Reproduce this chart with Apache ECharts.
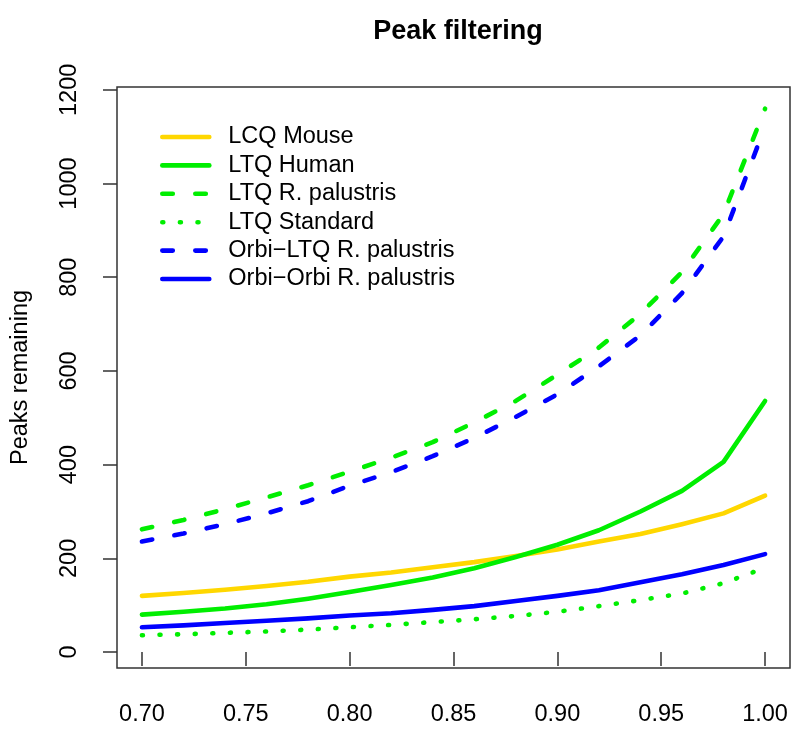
<!DOCTYPE html>
<html>
<head>
<meta charset="utf-8">
<script src="https://cdn.jsdelivr.net/npm/echarts@6/dist/echarts.min.js"></script>
<style>html,body{margin:0;padding:0;background:#fff;}#c{width:800px;height:739px;}</style>
</head>
<body>
<div id="c"></div>
<script>
// Data
const thresholds = [0.70,0.72,0.74,0.76,0.78,0.80,0.82,0.84,0.86,0.88,0.90,0.92,0.94,0.96,0.98,1.00];
const lcqMouse   = [120,126,133,141,150,161,170,181,192,205,219,236,252,273,296,334];
const ltqHuman   = [80,86,93,102,114,128,143,159,179,203,229,260,300,344,406,536];
const ltqRpal    = [262,282,305,330,356,385,415,448,490,536,592,650,722,811,935,1160];
const ltqStd     = [36,38,41,44,48,53,58,64,70,77,86,98,111,125,147,180];
const orbiLtqRpal  = [236,253,273,296,322,355,384,418,457,502,550,610,676,766,887,1122];
const orbiOrbiRpal = [53,57,62,67,72,78,83,90,98,109,120,132,149,166,186,209];
const xTicks = [0.70,0.75,0.80,0.85,0.90,0.95,1.00];
const yTicks = [0,200,400,600,800,1000,1200];
const seriesNames = ['LCQ Mouse','LTQ Human','LTQ R. palustris','LTQ Standard','Orbi\u2212LTQ R. palustris','Orbi\u2212Orbi R. palustris'];

const GOLD = '#FFD700', GREEN = '#00EE00', BLUE = '#0000FF';
const FONT = '"Liberation Sans", Arial, Helvetica, sans-serif';
const LW = 4.6;
const DASH = [10.5, 22.5], DOT = [1, 16.6];
const styles = [
  {color: GOLD, type: 'solid'},
  {color: GREEN, type: 'solid'},
  {color: GREEN, type: DASH},
  {color: GREEN, type: DOT},
  {color: BLUE, type: DASH},
  {color: BLUE, type: 'solid'}
];
const values = [lcqMouse, ltqHuman, ltqRpal, ltqStd, orbiLtqRpal, orbiOrbiRpal];

const series = values.map((vals, i) => ({
  name: seriesNames[i],
  type: 'line',
  symbol: 'none',
  smooth: false,
  silent: true,
  color: styles[i].color,
  lineStyle: {color: styles[i].color, width: LW, type: styles[i].type, cap: 'round', join: 'round'},
  data: thresholds.map((x, k) => [x, vals[k]])
}));

const chart = echarts.init(document.getElementById('c'), null, {renderer: 'canvas'});
chart.setOption({
  animation: false,
  backgroundColor: '#ffffff',
  title: {
    text: 'Peak filtering',
    left: 453, top: 13, textAlign: 'center',
    textStyle: {fontFamily: FONT, fontSize: 27, fontWeight: 'bold', color: '#000'}
  },
  legend: {
    orient: 'vertical',
    left: 160, top: 125, padding: 0,
    itemWidth: 47, itemHeight: 14, itemGap: 4.4,
    data: seriesNames,
    itemStyle: {opacity: 0, borderWidth: 0},
    lineStyle: {width: LW, cap: 'round'},
    textStyle: {fontFamily: FONT, fontSize: 23.5, color: '#000', padding: [0,0,0,14]},
    selectedMode: false
  },
  grid: {
    left: 117, right: 10, top: 87, bottom: 71,
    show: true, borderColor: '#333', borderWidth: 1.5, backgroundColor: 'transparent'
  },
  xAxis: {
    type: 'value', min: 0.688, max: 1.012,
    axisLine: {show: false},
    splitLine: {show: false},
    axisTick: {show: true, length: 14, inside: false, customValues: xTicks, lineStyle: {color: '#333', width: 1.5}},
    axisLabel: {show: true, customValues: xTicks, margin: 35, formatter: v => v.toFixed(2),
      fontFamily: FONT, fontSize: 23.5, color: '#000'}
  },
  yAxis: {
    type: 'value', min: -34, max: 1206,
    name: 'Peaks remaining', nameLocation: 'middle', nameGap: 84,
    nameTextStyle: {fontFamily: FONT, fontSize: 23.5, color: '#000'},
    axisLine: {show: false},
    splitLine: {show: false},
    axisTick: {show: true, length: 14, inside: false, customValues: yTicks, lineStyle: {color: '#333', width: 1.5}},
    axisLabel: {show: true, customValues: yTicks, rotate: 90, margin: 35, formatter: v => String(v),
      fontFamily: FONT, fontSize: 23.5, color: '#000'}
  },
  series: series
});
</script>
</body>
</html>
